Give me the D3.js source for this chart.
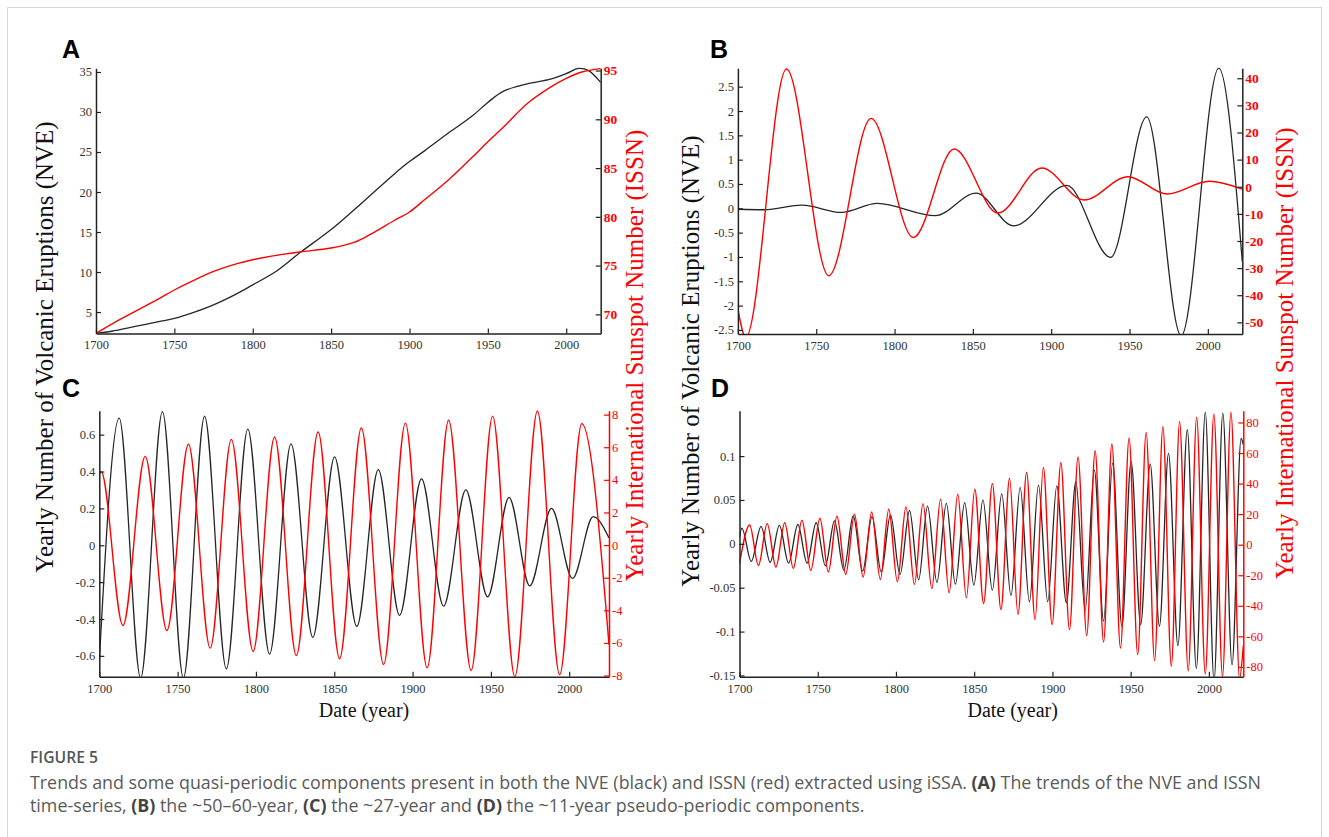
<!DOCTYPE html>
<html><head><meta charset="utf-8">
<script src="https://cdn.jsdelivr.net/npm/d3@7"></script>
<style>
body{margin:0;background:#fff;}
svg text{font-family:"Liberation Serif","Times New Roman",serif;}
</style></head><body>
<svg id="chart" width="1329" height="837"></svg>
<script>
// ---------- DATA ----------
const xTicks = [1700,1750,1800,1850,1900,1950,2000];

// Panel A: trends
const trendYearsNVE = [1700,1710,1725,1740,1750,1760,1775,1790,1800,1815,1830,1850,1870,1890,1900,1910,1925,1940,1950,1960,1975,1990,2000,2008,2014,2022];
const trendNVE      = [2.33,2.6,3.2,3.8,4.2,4.8,5.9,7.3,8.4,10.1,12.4,15.3,18.7,22.2,23.8,25.2,27.4,29.5,31.2,32.6,33.5,34.1,34.8,35.45,35.2,33.7];
const trendYearsISSN = [1700,1710,1725,1740,1750,1760,1775,1790,1800,1815,1830,1850,1865,1875,1890,1900,1910,1925,1940,1950,1960,1975,1990,2000,2010,2022];
const trendISSN      = [68.05,69.0,70.3,71.6,72.5,73.3,74.4,75.2,75.6,76.05,76.4,76.8,77.4,78.2,79.6,80.5,81.8,83.8,86.1,87.7,89.2,91.6,93.3,94.2,94.85,95.2];
const ticksALeft = [5,10,15,20,25,30,35];
const ticksARight = [70,75,80,85,90,95];

// Panel B: ~50-60 year component (extrema)
const nveBYears  = [1700,1717,1741,1766,1789,1826,1852,1876,1910,1938,1961,1983,2007,2022];
const nveBValues = [-0.02,-0.03,0.065,-0.085,0.1,-0.15,0.31,-0.36,0.47,-1.01,1.88,-2.62,2.88,-1.1];
const issnBYears  = [1700,1705,1731,1758,1785,1812,1838,1866,1894,1921,1949,1974,2001,2022];
const issnBValues = [-45,-55.5,43.4,-32.8,25.2,-18.7,13.9,-9.7,6.9,-4.9,3.7,-2.7,2.0,-0.9];
const ticksBLeft = [-2.5,-2,-1.5,-1,-0.5,0,0.5,1,1.5,2,2.5];
const ticksBRight = [-50,-40,-30,-20,-10,0,10,20,30,40];

// Panel C: ~27 year component (extrema)
const nveCYears  = [1700,1712.7,1726.4,1740.3,1753.7,1767.2,1781.1,1794.8,1808.7,1822.4,1836.3,1850.2,1864.4,1878.1,1891.7,1905.7,1919.8,1934,1947.9,1961.6,1974.8,1988.7,2002.1,2015.3,2025.4];
const nveCValues = [-0.63,0.69,-0.72,0.725,-0.72,0.70,-0.67,0.63,-0.59,0.55,-0.50,0.48,-0.44,0.41,-0.38,0.36,-0.33,0.30,-0.28,0.26,-0.22,0.20,-0.18,0.155,0.04];
const issnCYears  = [1700,1701.2,1715.1,1729.3,1743.2,1756.9,1770.8,1784.3,1798.2,1811.9,1825.8,1839.7,1853.4,1867.3,1881.5,1895.4,1909.3,1923,1937.4,1951.1,1965.3,1979.7,1993.9,2008,2025.4];
const issnCValues = [4.35,4.5,-4.93,5.44,-5.24,6.18,-6.32,6.48,-6.52,6.63,-6.77,6.93,-6.97,7.18,-7.32,7.48,-7.53,7.65,-7.69,7.91,-8.06,8.22,-7.95,7.44,-6.1];
const ticksCLeft = [-0.6,-0.4,-0.2,0,0.2,0.4,0.6];
const ticksCRight = [-8,-6,-4,-2,0,2,4,6,8];

// Panel D: ~11 year component (extrema)
const nveDYears  = [1700,1701.5,1707.5,1713.8,1719.6,1725.5,1731.4,1737.3,1743.2,1749,1754.9,1760.7,1766.7,1772.7,1778.7,1784.7,1790.6,1796.5,1802.6,1808.7,1814.5,1820.2,1826.2,1832.2,1838,1843.9,1849.8,1855.6,1861.6,1867.6,1873.5,1879.4,1885.3,1891.1,1897,1902.8,1908.9,1915,1920.9,1926.8,1932.7,1938.5,1944.4,1950.3,1956.4,1962.5,1968.4,1974.2,1980.2,1986.2,1992,1997.7,2003.3,2008.9,2014.8,2020.6,2022];
const nveDValues = [0.008,0.018,-0.020,0.020,-0.021,0.021,-0.022,0.022,-0.022,0.024,-0.025,0.026,-0.030,0.032,-0.031,0.031,-0.032,0.033,-0.035,0.038,-0.041,0.043,-0.044,0.046,-0.046,0.047,-0.047,0.050,-0.053,0.057,-0.059,0.064,-0.066,0.067,-0.066,0.066,-0.067,0.071,-0.076,0.084,-0.088,0.092,-0.094,0.094,-0.092,0.091,-0.094,0.103,-0.116,0.130,-0.142,0.150,-0.156,0.149,-0.138,0.120,0.113];
const issnDYears  = [1700,1706.5,1712.1,1717.7,1723.3,1728.9,1734.4,1739.9,1745.6,1751.4,1756.8,1762.3,1767.9,1773.5,1779,1784.5,1790,1795.4,1800.9,1806.4,1811.8,1817.3,1822.9,1828.5,1834,1839.5,1845,1850.4,1856,1861.6,1867.1,1872.6,1878,1883.5,1888.9,1894.2,1899.8,1905.4,1910.9,1916.4,1921.9,1927.3,1932.7,1938,1943.5,1949,1954.5,1959.9,1965.3,1970.6,1976,1981.3,1986.8,1992.2,1997.7,2003.2,2008.7,2014.1,2019.6,2022];
const issnDValues = [-12.5,12.9,-13.6,13.8,-14.7,14.4,-15.5,16.0,-16.8,17.3,-17.9,18.6,-19.5,19.9,-21.2,21.4,-22.8,23.2,-24.3,24.7,-26.0,26.9,-28.7,29.8,-31.5,33.0,-34.8,36.3,-38.5,40.0,-42.5,43.3,-45.7,47.3,-49.0,50.5,-52.3,53.8,-55.6,57.5,-59.5,61.5,-63.7,65.9,-67.6,69.8,-72.0,73.5,-75.9,77.2,-79.6,80.5,-82.5,83.4,-84.7,85.6,-86.2,86.7,-87.5,-66];
const ticksDLeft = [-0.15,-0.1,-0.05,0,0.05,0.1];
const ticksDRight = [-80,-60,-40,-20,0,20,40,60,80];

// ---------- DRAW ----------
const SERIF = '"Liberation Serif","Times New Roman",serif';
const svg = d3.select("#chart");
svg.append("rect").attr("x",7.5).attr("y",7.5).attr("width",1314).attr("height",860)
  .attr("fill","none").attr("stroke","#d6d6d6").attr("stroke-width",1);

const defs = svg.append("defs");
const RED = "#ff0000", BLACK = "#262626", AX = "#222";

function zip(a,b){ return a.map((v,i)=>[v,b[i]]); }

function panel(id, c){
  const x = d3.scaleLinear().domain(c.xDomain).range([c.x0,c.x1]);
  const yL = d3.scaleLinear().domain(c.yL).range([c.y1,c.y0]);
  const yR = d3.scaleLinear().domain(c.yR).range([c.y1,c.y0]);
  defs.append("clipPath").attr("id","clip"+id).append("rect")
    .attr("x",c.x0).attr("y",c.y0-1).attr("width",c.x1-c.x0).attr("height",c.y1-c.y0+1);
  const g = svg.append("g");
  const lines = g.append("g").attr("clip-path","url(#clip"+id+")");
  lines.append("path").datum(zip(c.bx,c.by))
    .attr("d", d3.line().x(d=>x(d[0])).y(d=>yL(d[1])).curve(c.curve))
    .attr("fill","none").attr("stroke",BLACK).attr("stroke-width",1.3);
  lines.append("path").datum(zip(c.rx,c.ry))
    .attr("d", d3.line().x(d=>x(d[0])).y(d=>yR(d[1])).curve(c.curve))
    .attr("fill","none").attr("stroke",RED).attr("stroke-width",1.4);

  const xa = g.append("g").attr("transform",`translate(0,${c.y1})`)
    .call(d3.axisBottom(x).tickValues(xTicks).tickSizeInner(-5).tickSizeOuter(0).tickPadding(7).tickFormat(d3.format("d")));
  const la = g.append("g").attr("transform",`translate(${c.x0},0)`)
    .call(d3.axisLeft(yL).tickValues(c.lt).tickSizeInner(-5).tickSizeOuter(0).tickPadding(4).tickFormat(d=>String(d)));
  const ra = g.append("g").attr("transform",`translate(${c.x1},0)`)
    .call(d3.axisRight(yR).tickValues(c.rt).tickSizeInner(-5).tickSizeOuter(0).tickPadding(3).tickFormat(d=>String(d)));
  [xa,la,ra].forEach(a=>a.attr("font-family",null).attr("font-size",null));
  [xa,la].forEach(a=>{
    a.attr("color",AX);
    a.select(".domain").attr("stroke-width",1.5);
    a.selectAll("line").attr("stroke-width",1.2);
    a.selectAll("text").style("font-family",SERIF).style("font-size","12.5px").attr("fill","#333");
  });
  ra.attr("color", c.rColor);
  ra.select(".domain").attr("stroke-width",1.5);
  ra.selectAll("line").attr("stroke-width",1.2);
  ra.selectAll("text").style("font-family",SERIF)
    .style("font-size", c.rBold?"13.5px":"12.5px").style("font-weight", c.rBold?"bold":"normal").attr("fill",RED);
  svg.append("text").attr("x",c.lx).attr("y",c.ly).text(id)
    .attr("font-weight","bold").attr("font-size",25).attr("fill","#000")
    .style("font-family",'"Liberation Sans",Arial,sans-serif');
}

panel("A",{x0:96,x1:600.7,y0:68.3,y1:333.4,xDomain:[1700,2022],yL:[2.33,35.46],yR:[68.05,95.23],curve:d3.curveCatmullRom.alpha(0.5),
  bx:trendYearsNVE,by:trendNVE,rx:trendYearsISSN,ry:trendISSN,lt:ticksALeft,rt:ticksARight,rColor:AX,rBold:true,lx:62,ly:58.3});
panel("B",{x0:737.9,x1:1242.3,y0:68.3,y1:334,xDomain:[1700,2022],yL:[-2.584,2.878],yR:[-54.3,43.67],curve:d3.curveMonotoneX,
  bx:nveBYears,by:nveBValues,rx:issnBYears,ry:issnBValues,lt:ticksBLeft,rt:ticksBRight,rColor:AX,rBold:true,lx:710,ly:58.3});
panel("C",{x0:99.3,x1:609,y0:410.7,y1:676.7,xDomain:[1700,2025.4],yL:[-0.713,0.73],yR:[-8.07,8.24],curve:d3.curveMonotoneX,
  bx:nveCYears,by:nveCValues,rx:issnCYears,ry:issnCValues,lt:ticksCLeft,rt:ticksCRight,rColor:RED,rBold:false,lx:62,ly:397});
panel("D",{x0:739.5,x1:1243.3,y0:410.7,y1:676.7,xDomain:[1700,2022],yL:[-0.1514,0.1517],yR:[-86.4,87.7],curve:d3.curveMonotoneX,
  bx:nveDYears,by:nveDValues,rx:issnDYears,ry:issnDValues,lt:ticksDLeft,rt:ticksDRight,rColor:RED,rBold:false,lx:711,ly:397});

// axis titles
function vlabel(x,y,txt,col){
  svg.append("text").attr("transform",`translate(${x},${y}) rotate(-90)`).attr("text-anchor","middle")
    .attr("font-size",25).attr("fill",col).style("font-family",SERIF).text(txt);
}
vlabel(53,347,"Yearly Number of Volcanic Eruptions (NVE)","#111");
vlabel(643,355.5,"Yearly International Sunspot Number (ISSN)",RED);
vlabel(699,361,"Yearly Number of Volcanic Eruptions (NVE)","#111");
vlabel(1293.3,353.3,"Yearly International Sunspot Number (ISSN)",RED);
svg.append("text").attr("x",364).attr("y",717).attr("text-anchor","middle").attr("font-size",20).attr("fill","#111").style("font-family",SERIF).text("Date (year)");
svg.append("text").attr("x",1012.7).attr("y",717).attr("text-anchor","middle").attr("font-size",20).attr("fill","#111").style("font-family",SERIF).text("Date (year)");

// caption
const capFont = '"Open Sans","Noto Sans",sans-serif';
const fig = svg.append("text").attr("x",30).attr("y",763).attr("fill","#555").attr("font-size",14)
  .attr("font-weight",600).style("font-family",capFont).text("FIGURE 5");
const l1 = svg.append("text").attr("x",30).attr("y",789).attr("fill","#5a5a5a").attr("font-size",14).style("font-family",capFont);
const parts1 = [["Trends and some quasi-periodic components present in both the NVE (black) and ISSN (red) extracted using iSSA. ",0],["(A)",1],[" The trends of the NVE and ISSN",0]];
parts1.forEach(p=>l1.append("tspan").text(p[0]).attr("font-weight",p[1]?700:400).attr("fill",p[1]?"#444":"#5a5a5a"));
const l2 = svg.append("text").attr("x",30).attr("y",812).attr("fill","#5a5a5a").attr("font-size",14).style("font-family",capFont);
const parts2 = [["time-series, ",0],["(B)",1],[" the ~50\u201360-year, ",0],["(C)",1],[" the ~27-year and ",0],["(D)",1],[" the ~11-year pseudo-periodic components.",0]];
parts2.forEach(p=>l2.append("tspan").text(p[0]).attr("font-weight",p[1]?700:400).attr("fill",p[1]?"#444":"#5a5a5a"));
const w1 = l1.node().getComputedTextLength();
const fs = 14*1232/w1;
l1.attr("font-size",fs); l2.attr("font-size",fs);
const wf = fig.node().getComputedTextLength();
fig.attr("font-size", 14*68/wf);
</script>
</body></html>
